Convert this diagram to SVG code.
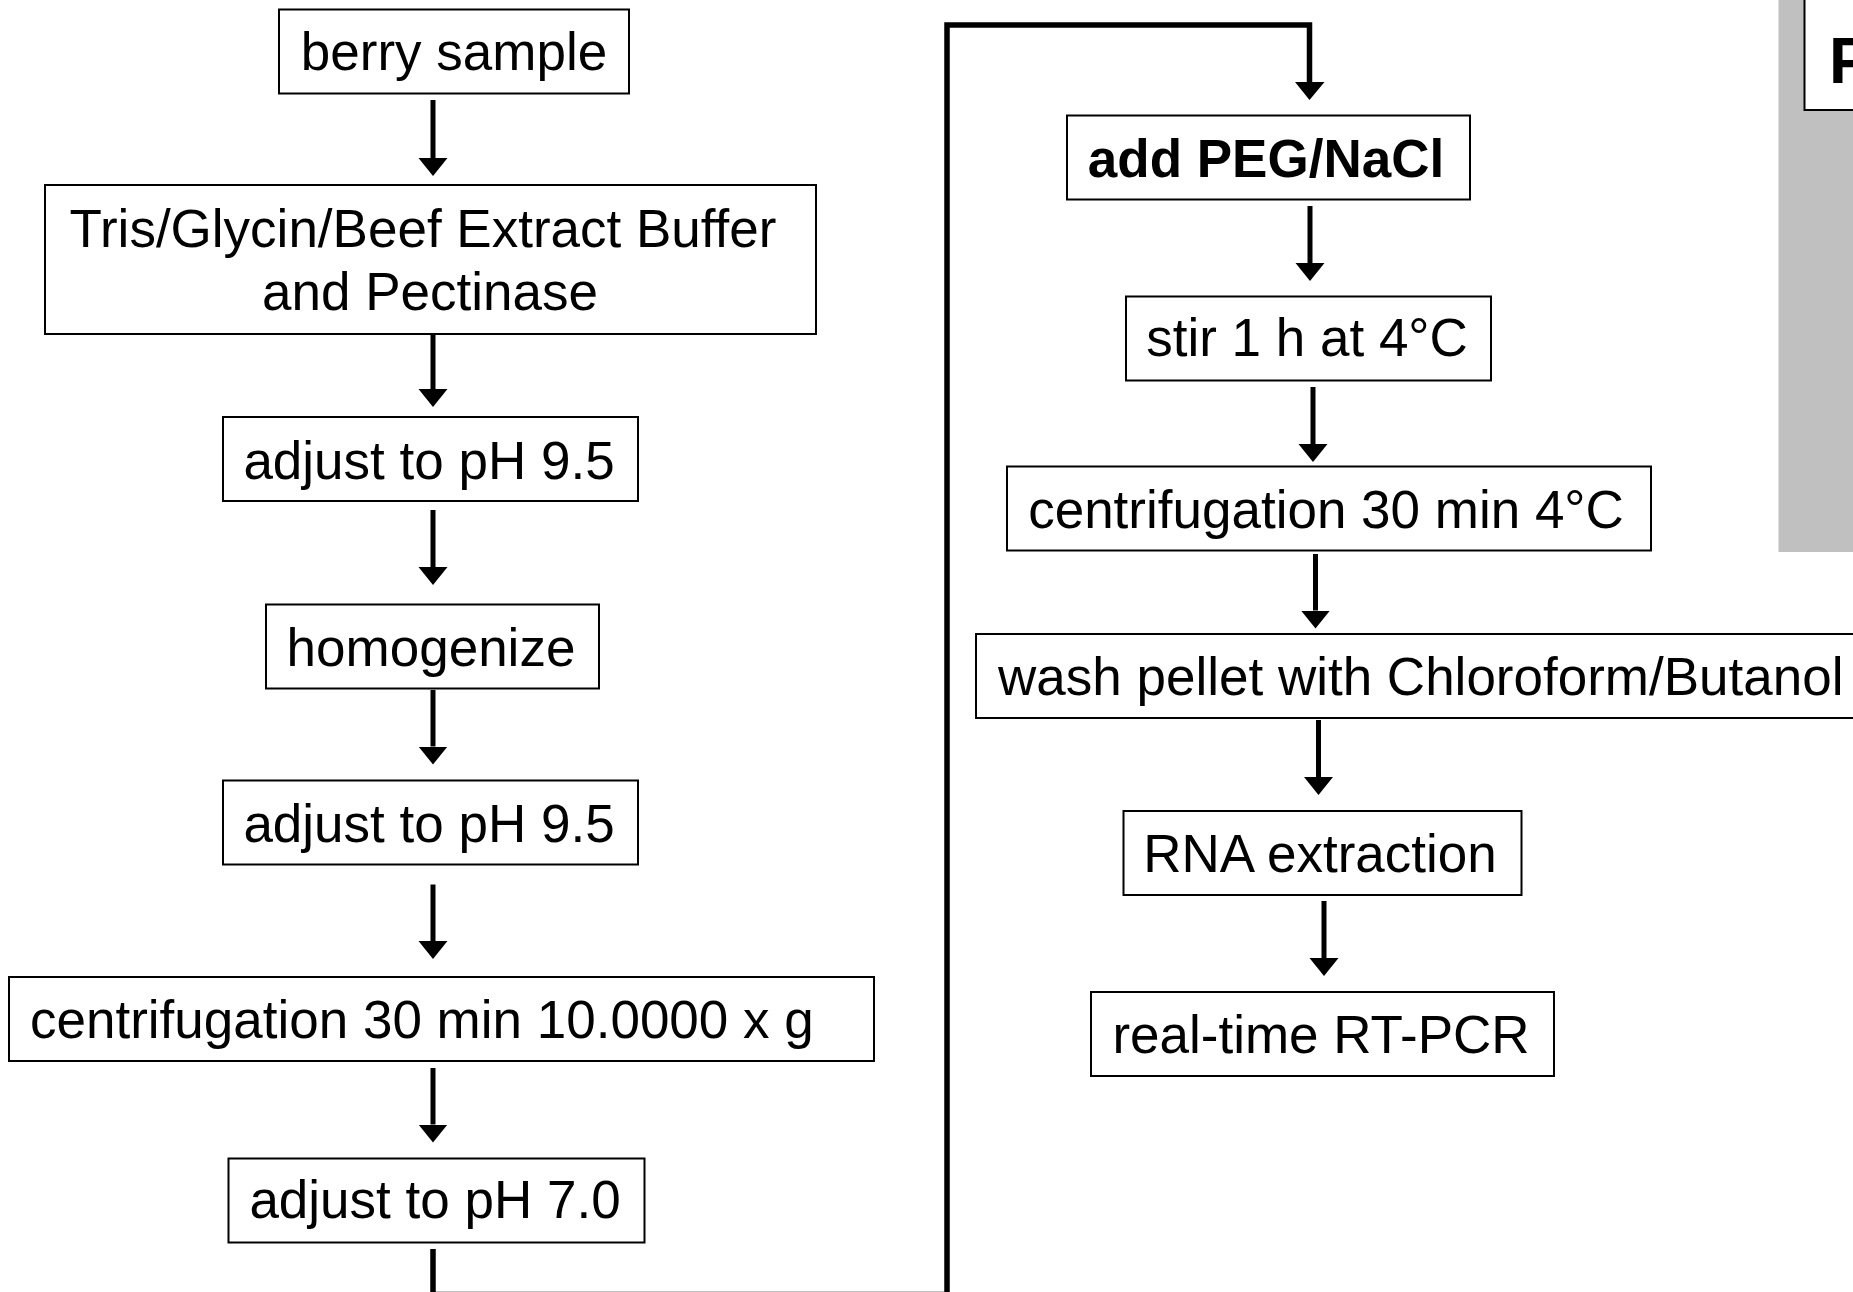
<svg xmlns="http://www.w3.org/2000/svg" width="1853" height="1292" viewBox="0 0 1853 1292">
<style>
.box{fill:#fff;stroke:#000;stroke-width:2}
.t{font-family:"Liberation Sans",Arial,sans-serif;font-size:53px;fill:#000}
.m{text-anchor:middle}
.b{font-weight:bold}
.arr{fill:none;stroke:#000;stroke-width:5;marker-end:url(#ah)}
.conn{fill:none;stroke:#000;stroke-width:5.5;stroke-linejoin:miter}
</style>
<defs>
<marker id="ah" markerUnits="userSpaceOnUse" viewBox="0 -15 18 30" markerWidth="18" markerHeight="30" refX="0" refY="0" orient="auto">
<path d="M0,-14.5 L18,0 L0,14.5 Z" fill="#000"/>
</marker>
</defs>
<rect width="1853" height="1292" fill="#fff"/>
<g id="panel">
<rect x="1778.5" y="-5" width="80" height="557" fill="#C0C0C0"/>
<rect x="1804.5" y="-10" width="60" height="120" fill="#fff" stroke="#000" stroke-width="2"/>
<text x="1829" y="83" class="t b" style="font-size:64px">P</text>
</g>
<g id="connectors">
<path class="arr" d="M433,100 V158"/>
<path class="arr" d="M433,334 V389"/>
<path class="arr" d="M433,510 V567"/>
<path class="arr" d="M433,690 V746.5"/>
<path class="arr" d="M433,884.5 V941"/>
<path class="arr" d="M433,1068 V1124.5"/>
<path class="conn" d="M433,1249 V1294.5 H947 V25 H1309.5 V82"/>
<path d="M1295,82 L1324.5,82 L1309.5,100 Z" fill="#000"/>
<path class="arr" d="M1310,206 V263"/>
<path class="arr" d="M1313,387 V444"/>
<path class="arr" d="M1315.5,554 V610.5"/>
<path class="arr" d="M1318.5,720 V777"/>
<path class="arr" d="M1324,901 V958"/>
</g>
<g id="n1"><rect class="box" x="279" y="9.5" width="350" height="84"/><text class="t m" x="454" y="70">berry sample</text></g>
<g id="n2"><rect class="box" x="45" y="185" width="771" height="149"/><text class="t m" x="423" y="247">Tris/Glycin/Beef Extract Buffer</text><text class="t m" x="430" y="310">and Pectinase</text></g>
<g id="n3"><rect class="box" x="223" y="417" width="415" height="84"/><text class="t m" x="429" y="479">adjust to pH 9.5</text></g>
<g id="n4"><rect class="box" x="266" y="604.5" width="333" height="84"/><text class="t m" x="431" y="666">homogenize</text></g>
<g id="n5"><rect class="box" x="223" y="780.5" width="415" height="84"/><text class="t m" x="429" y="842">adjust to pH 9.5</text></g>
<g id="n6"><rect class="box" x="9" y="977" width="865" height="84"/><text class="t" x="30" y="1038">centrifugation 30 min 10.0000 x g</text></g>
<g id="n7"><rect class="box" x="228.5" y="1158.5" width="416" height="84"/><text class="t m" x="435" y="1218">adjust to pH 7.0</text></g>
<g id="n8"><rect class="box" x="1067" y="115.5" width="403" height="84"/><text class="t m b" x="1266" y="177">add PEG/NaCl</text></g>
<g id="n9"><rect class="box" x="1126" y="296.5" width="365" height="84"/><text class="t m" x="1307" y="356">stir 1 h at 4°C</text></g>
<g id="n10"><rect class="box" x="1007" y="466.5" width="644" height="84"/><text class="t m" x="1326" y="528">centrifugation 30 min 4°C</text></g>
<g id="n11"><rect class="box" x="976" y="634" width="900" height="84"/><text class="t" x="998" y="695">wash pellet with Chloroform/Butanol</text></g>
<g id="n12"><rect class="box" x="1123.5" y="811" width="398" height="84"/><text class="t m" x="1320" y="872">RNA extraction</text></g>
<g id="n13"><rect class="box" x="1091" y="992" width="463" height="84"/><text class="t m" x="1321" y="1053">real-time RT-PCR</text></g>
</svg>
